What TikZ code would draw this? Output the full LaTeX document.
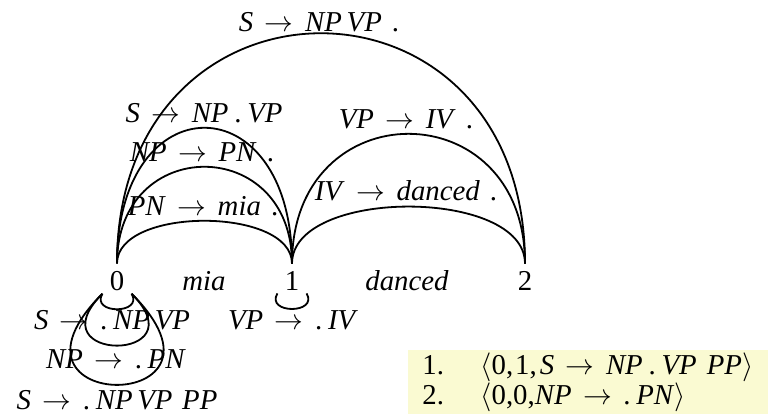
\documentclass[tikz,border=0pt]{standalone}
\usepackage{fontspec}
\setmainfont{Liberation Serif}
\definecolor{boxfill}{RGB}{250,250,210}
\newcommand{\ar}{\hspace{0.4em}$\rightarrow$\hspace{0.4em}}
\newcommand{\md}{\hspace{0.2em}.\hspace{0.2em}}
\newcommand{\ed}{\hspace{0.35em}.}
\begin{document}
\begin{tikzpicture}[x=0.5pt,y=0.5pt,
  every node/.style={font=\fontsize{14.4}{17}\selectfont},
  num/.style={anchor=base,inner sep=3.5pt},
  lab/.style={anchor=base,inner sep=0pt},
  item/.style={anchor=base west,inner sep=0pt,text height=10pt,text depth=2.5pt},
  edge/.style={line width=0.9pt},
]
\useasboundingbox (0,0) rectangle (768,-419);
% vertices and words
\node[num] (n0) at (117,-290) {0};
\node[lab] (w1) at (204,-290) {\textit{mia}};
\node[num] (n1) at (292,-290) {1};
\node[lab] (w2) at (407,-290) {\textit{danced}};
\node[num] (n2) at (525,-290) {2};
% upper arcs
\draw[edge] (n0.north) .. controls +(0,57) and +(0,57) .. (n1.north);
\draw[edge] (n0.north) .. controls +(0,129) and +(0,129) .. (n1.north);
\draw[edge] (n0.north) .. controls +(0,181) and +(0,181) .. (n1.north);
\draw[edge] (n1.north) .. controls +(0,76) and +(0,76) .. (n2.north);
\draw[edge] (n1.north) .. controls +(0,173) and +(0,173) .. (n2.north);
\draw[edge] (n0.north) .. controls +(0,307) and +(0,307) .. (n2.north);
% loops
\coordinate (a0) at ([yshift=2pt]n0.south west);
\coordinate (b0) at ([yshift=2pt]n0.south east);
\coordinate (a1) at ([yshift=2pt]n1.south west);
\coordinate (b1) at ([yshift=2pt]n1.south east);
\draw[edge] (a0) .. controls +(-120:24) and +(-60:24) .. (b0);
\draw[edge] (a0) .. controls +(-135:98) and +(-45:98) .. (b0);
\draw[edge] (a0) .. controls +(-135:172) and +(-45:172) .. (b0);
\draw[edge] (a1) .. controls +(-120:24) and +(-60:24) .. (b1);
% edge labels above
\node[lab] (l1) at (319,-31) {\textit{S}\ar\textit{NP\,VP}\ed};
\node[lab] (l2) at (204,-122) {\textit{S}\ar\textit{NP}\md\textit{VP}};
\node[lab] (l3) at (202,-161) {\textit{NP}\ar\textit{PN}\ed};
\node[lab] (l4) at (203,-215) {\textit{PN}\ar\textit{mia}\ed};
\node[lab] (l5) at (406,-128) {\textit{VP}\ar\textit{IV}\ed};
\node[lab] (l6) at (406,-200) {\textit{IV}\ar\textit{danced}\ed};
% edge labels below
\node[lab] (b1l) at (112,-329) {\textit{S}\ar.\hspace{0.2em}\textit{NP\,VP}};
\node[lab] (b2l) at (293,-329) {\textit{VP}\ar.\hspace{0.2em}\textit{IV}};
\node[lab] (b3l) at (116,-368) {\textit{NP}\ar.\hspace{0.2em}\textit{PN}};
\node[lab] (b4l) at (117,-409) {\textit{S}\ar.\hspace{0.2em}\textit{NP\,VP\,\,PP}};
% agenda box
\node[fill=boxfill,draw=none,minimum width=180pt,minimum height=32pt,anchor=north west,inner sep=0pt] (box) at (408,-350) {};
\node[item] (i1n) at (422,-374) {1.};
\node[item] (i1) at (480,-374) {$\langle$0,\hspace{1pt}1,\hspace{1.5pt}\textit{S}\ar\textit{NP}\md\textit{VP}\hspace{0.35em}\textit{PP}$\rangle$};
\node[item] (i2n) at (422,-404) {2.};
\node[item] (i2) at (480,-404) {$\langle$0,0,\textit{NP}\ar.\hspace{0.2em}\textit{PN}$\rangle$};
\end{tikzpicture}
\end{document}
